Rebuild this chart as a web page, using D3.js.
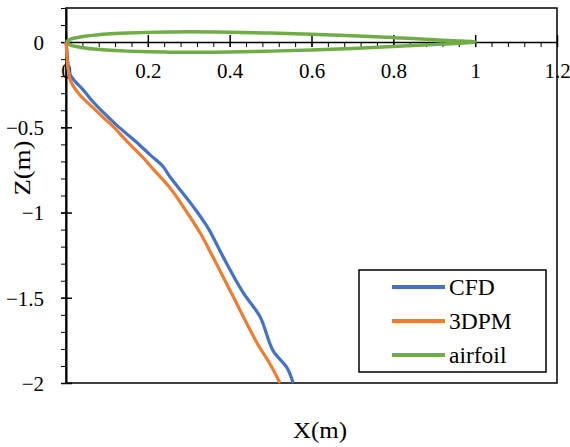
<!DOCTYPE html>
<html lang="en">
<head>
<meta charset="utf-8">
<title>Z vs X</title>
<script src="https://cdn.jsdelivr.net/npm/d3@7"></script>
<style>
  body { margin: 0; background: #fff; }
  svg text { font-family: "Liberation Serif", Times, "Times New Roman", serif !important; fill: #000; }
</style>
</head>
<body>
<svg id="chart" width="570" height="447"></svg>
<script>

// CFD trajectory
var cfdX = [0, 0.002, 0.005, 0.01, 0.022, 0.042, 0.066, 0.09, 0.125, 0.169, 0.205, 0.237, 0.254, 0.311, 0.347, 0.384, 0.433, 0.474, 0.506, 0.54, 0.555]
var cfdZ = [0, -0.04, -0.13, -0.19, -0.23, -0.28, -0.35, -0.41, -0.49, -0.58, -0.66, -0.73, -0.79, -0.965, -1.09, -1.26, -1.47, -1.61, -1.81, -1.91, -2.0]

// 3DPM trajectory
var dpmX = [0, 0.002, 0.005, 0.01, 0.017, 0.034, 0.066, 0.09, 0.115, 0.15, 0.188, 0.213, 0.254, 0.296, 0.328, 0.359, 0.408, 0.467, 0.499, 0.523]
var dpmZ = [0, -0.07, -0.16, -0.22, -0.255, -0.31, -0.385, -0.44, -0.495, -0.585, -0.677, -0.745, -0.855, -1.0, -1.12, -1.26, -1.49, -1.765, -1.89, -2.0]

// airfoil outline (upper surface LE->TE, lower surface TE->LE)
var foilX = [0, 0.0125, 0.025, 0.05, 0.075, 0.1, 0.15, 0.2, 0.25, 0.3, 0.4, 0.5, 0.6, 0.7, 0.8, 0.9, 0.95, 1.0,
             0.95, 0.9, 0.8, 0.7, 0.6, 0.5, 0.4, 0.3, 0.25, 0.2, 0.15, 0.1, 0.075, 0.05, 0.025, 0.0125, 0]
var foilZ = [0, 0.019, 0.026, 0.036, 0.042, 0.047, 0.053, 0.057, 0.059, 0.06, 0.058, 0.053, 0.046, 0.037, 0.026, 0.014, 0.008, 0.001,
             -0.008, -0.014, -0.026, -0.037, -0.046, -0.053, -0.058, -0.06, -0.059, -0.057, -0.053, -0.047, -0.042, -0.036, -0.026, -0.019, 0]

var xTicks = [0, 0.2, 0.4, 0.6, 0.8, 1, 1.2]
var zTicks = [0, -0.5, -1, -1.5, -2]

var seriesNames = ["CFD", "3DPM", "airfoil"]
var colors = {"CFD": "#4472c4", "3DPM": "#ed7d31", "airfoil": "#70ad47"}

var svg = d3.select("#chart"),
    margin = {top: 8, left: 66, bottom: 64, right: 13},
    width = +svg.attr("width"),
    height = +svg.attr("height")

var x = d3.scaleLinear()
  .domain([0, 1.2])
  .range([margin.left, width - margin.right])

var y = d3.scaleLinear()
  .domain([-2, 0.2])
  .range([height - margin.bottom, margin.top])

// plot frame
svg.append("rect")
  .attr("x", x(0)).attr("y", y(0.2))
  .attr("width", x(1.2) - x(0)).attr("height", y(-2) - y(0.2))
  .attr("fill", "none").attr("stroke", "#000").attr("stroke-width", 1.5)

// minor ticks
var xMinor = d3.range(0, 31).map(i => i * 0.04)
var zMinor = d3.range(-20, 3).map(i => i / 10)

svg.append("g")
  .attr("transform", `translate(0,${y(0)})`)
  .call(d3.axisBottom(x).tickValues(xMinor).tickSize(5).tickFormat(""))
  .call(g => g.select(".domain").remove())

svg.append("g")
  .attr("transform", `translate(${x(0)},0)`)
  .call(d3.axisLeft(y).tickValues(zMinor).tickSize(5).tickFormat(""))
  .call(g => g.select(".domain").remove())

// major x axis at z = 0
var xAxis = svg.append("g")
  .attr("transform", `translate(0,${y(0)})`)
  .call(d3.axisBottom(x).tickValues(xTicks).tickSizeOuter(0).tickFormat(d3.format("~g")))

xAxis.select(".domain").attr("stroke-width", 1.5)
xAxis.selectAll(".tick line").attr("y1", -7).attr("y2", 5).attr("stroke-width", 1.5)
xAxis.selectAll(".tick text")
  .attr("y", 36).attr("dy", null)
  .attr("font-size", "21px")

var yAxis = svg.append("g")
  .attr("transform", `translate(${x(0)},0)`)
  .call(d3.axisLeft(y).tickValues(zTicks).tickSizeOuter(0).tickFormat(d3.format("~g")))

yAxis.select(".domain").attr("stroke-width", 2)
yAxis.selectAll(".tick line").attr("x1", -5).attr("x2", 6).attr("stroke-width", 1.5)
yAxis.selectAll(".tick text")
  .attr("x", -22).attr("dy", "0.35em")
  .attr("font-size", "21px")

// axis titles
svg.append("text")
  .attr("x", 320).attr("y", 438)
  .attr("text-anchor", "middle")
  .attr("font-size", "23px")
  .attr("textLength", 54).attr("lengthAdjust", "spacingAndGlyphs")
  .text("X(m)")

svg.append("text")
  .attr("transform", "translate(30,168) rotate(-90)")
  .attr("text-anchor", "middle")
  .attr("font-size", "23px")
  .attr("textLength", 55).attr("lengthAdjust", "spacingAndGlyphs")
  .text("Z(m)")

// series
var line = d3.line()
  .x(d => x(d[0]))
  .y(d => y(d[1]))
  .curve(d3.curveCatmullRom)

var plot = svg.append("g")

plot.append("path")
  .datum(foilX.map((v, i) => [v, foilZ[i]]))
  .attr("d", line)
  .attr("fill", "none").attr("stroke", colors["airfoil"]).attr("stroke-width", 3.5)

plot.append("path")
  .datum(cfdX.map((v, i) => [v, cfdZ[i]]))
  .attr("d", line)
  .attr("fill", "none").attr("stroke", colors["CFD"]).attr("stroke-width", 3.2)
  .attr("stroke-linejoin", "round")

plot.append("path")
  .datum(dpmX.map((v, i) => [v, dpmZ[i]]))
  .attr("d", line)
  .attr("fill", "none").attr("stroke", colors["3DPM"]).attr("stroke-width", 3.2)
  .attr("stroke-linejoin", "round")

// legend
var legend = svg.append("g")

legend.append("rect")
  .attr("x", 359).attr("y", 270)
  .attr("width", 187).attr("height", 102)
  .attr("fill", "#fff").attr("stroke", "#000").attr("stroke-width", 1.5)

var items = legend.selectAll("g.item")
  .data(seriesNames)
  .enter().append("g")
  .attr("class", "item")
  .attr("transform", (d, i) => `translate(0,${287 + i * 34})`)

items.append("line")
  .attr("x1", 392).attr("x2", 445)
  .attr("stroke", d => colors[d]).attr("stroke-width", 4)

items.append("text")
  .attr("x", 449).attr("y", 8)
  .attr("font-size", "23.5px")
  .text(d => d)

</script>
</body>
</html>
